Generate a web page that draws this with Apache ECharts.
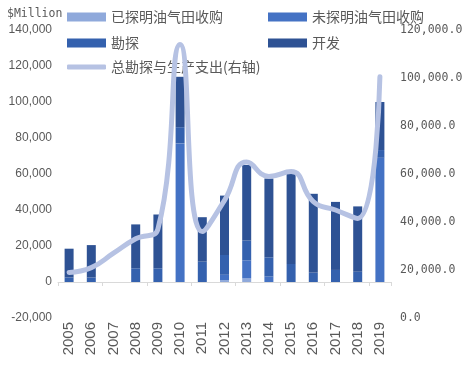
<!DOCTYPE html>
<html>
<head>
<meta charset="utf-8">
<script src="https://cdn.jsdelivr.net/npm/echarts@6/dist/echarts.min.js"></script>
<style>
html,body{margin:0;padding:0;background:#fff;}
#chart{width:470px;height:370px;}
</style>
</head>
<body>
<div id="chart"></div>
<script>
const categories = ['2005','2006','2007','2008','2009','2010','2011','2012','2013','2014','2015','2016','2017','2018','2019'];
const provedAcq   = [0, 0, 0, 0, 0, 0, 0, 1000, 2000, 0, 0, 0, 0, 0, 0];
const unprovedAcq = [0, 0, 0, 0, 0, 77000, 0, 3000, 10000, 3000, 0, 0, 0, 0, 69000];
const exploration = [2500, 2500, 0, 7600, 7600, 9000, 11300, 11000, 11000, 10700, 10000, 5200, 6700, 5700, 4300];
const development = [16000, 18000, 0, 24400, 29900, 28000, 24700, 33000, 42000, 43800, 51000, 43800, 37800, 36300, 26700];
const totalCapex  = [19000, 21000, 27000, 33000, 37000, 114000, 36000, 49000, 65000, 59000, 61000, 48500, 45000, 41500, 100500];
const seriesNames = ['已探明油气田收购', '未探明油气田收购', '勘探', '开发', '总勘探与生产支出(右轴)'];
const unitLabel = '$Million';

const colors = ['#8FA9DB', '#4472C4', '#3461AE', '#2E5294', '#B6C2E3'];
const gray = '#595959';
const legendText = { fontSize: 14, color: gray, fontFamily: 'Noto Sans CJK SC' };
function lg(name, left, top, extra) {
  return Object.assign({
    data: [name], left: left, top: top, padding: 0,
    itemWidth: 39, itemHeight: 9, icon: 'rect',
    textStyle: legendText, selectedMode: false
  }, extra || {});
}

const chart = echarts.init(document.getElementById('chart'), null, { renderer: 'canvas' });
chart.setOption({
  animation: false,
  backgroundColor: '#ffffff',
  color: colors,
  title: {
    text: unitLabel, left: 7, top: 8, padding: 0,
    textStyle: { fontSize: 11.5, fontWeight: 'normal', color: gray, fontFamily: 'DejaVu Sans Mono' }
  },
  legend: [
    lg(seriesNames[0], 67, 10),
    lg(seriesNames[1], 268, 10),
    lg(seriesNames[2], 67, 36),
    lg(seriesNames[3], 268, 36),
    lg(seriesNames[4], 67, 60, { icon: 'roundRect', itemHeight: 5 })
  ],
  grid: { left: 58, right: 79, top: 30, bottom: 52, containLabel: false },
  xAxis: [
    {
      type: 'category', data: categories, position: 'bottom',
      axisLine: { show: false, onZero: false },
      axisTick: { show: false },
      axisLabel: { rotate: 90, fontSize: 15, color: gray, margin: 4, fontFamily: 'Liberation Sans' }
    },
    {
      type: 'category', data: categories, position: 'bottom',
      axisLine: { show: true, onZero: true, lineStyle: { color: '#D9D9D9', width: 1 } },
      axisTick: { show: true, length: 4, lineStyle: { color: '#D9D9D9' } },
      axisLabel: { show: false }
    }
  ],
  yAxis: [
    {
      type: 'value', min: -20000, max: 140000, interval: 20000,
      axisLine: { show: false }, axisTick: { show: false }, splitLine: { show: false },
      axisLabel: { fontSize: 12, color: gray, margin: 6, fontFamily: 'Liberation Sans' }
    },
    {
      type: 'value', min: 0, max: 120000, interval: 20000, position: 'right',
      axisLine: { show: false }, axisTick: { show: false }, splitLine: { show: false },
      axisLabel: {
        fontSize: 11.5, color: gray, margin: 9, fontFamily: 'DejaVu Sans Mono',
        formatter: v => v.toLocaleString('en-US', { minimumFractionDigits: 1, maximumFractionDigits: 1 })
      }
    }
  ],
  series: [
    { name: seriesNames[0], type: 'bar', stack: 'total', barWidth: 9, data: provedAcq, itemStyle: { color: colors[0] } },
    { name: seriesNames[1], type: 'bar', stack: 'total', barWidth: 9, data: unprovedAcq, itemStyle: { color: colors[1] } },
    { name: seriesNames[2], type: 'bar', stack: 'total', barWidth: 9, data: exploration, itemStyle: { color: colors[2] } },
    { name: seriesNames[3], type: 'bar', stack: 'total', barWidth: 9, data: development, itemStyle: { color: colors[3] } },
    {
      name: seriesNames[4], type: 'line', yAxisIndex: 1, smooth: 0.5, showSymbol: false, symbol: 'none',
      data: totalCapex, lineStyle: { width: 5, color: colors[4], cap: 'round', join: 'round' },
      itemStyle: { color: colors[4] }, z: 5
    }
  ]
});
</script>
</body>
</html>
